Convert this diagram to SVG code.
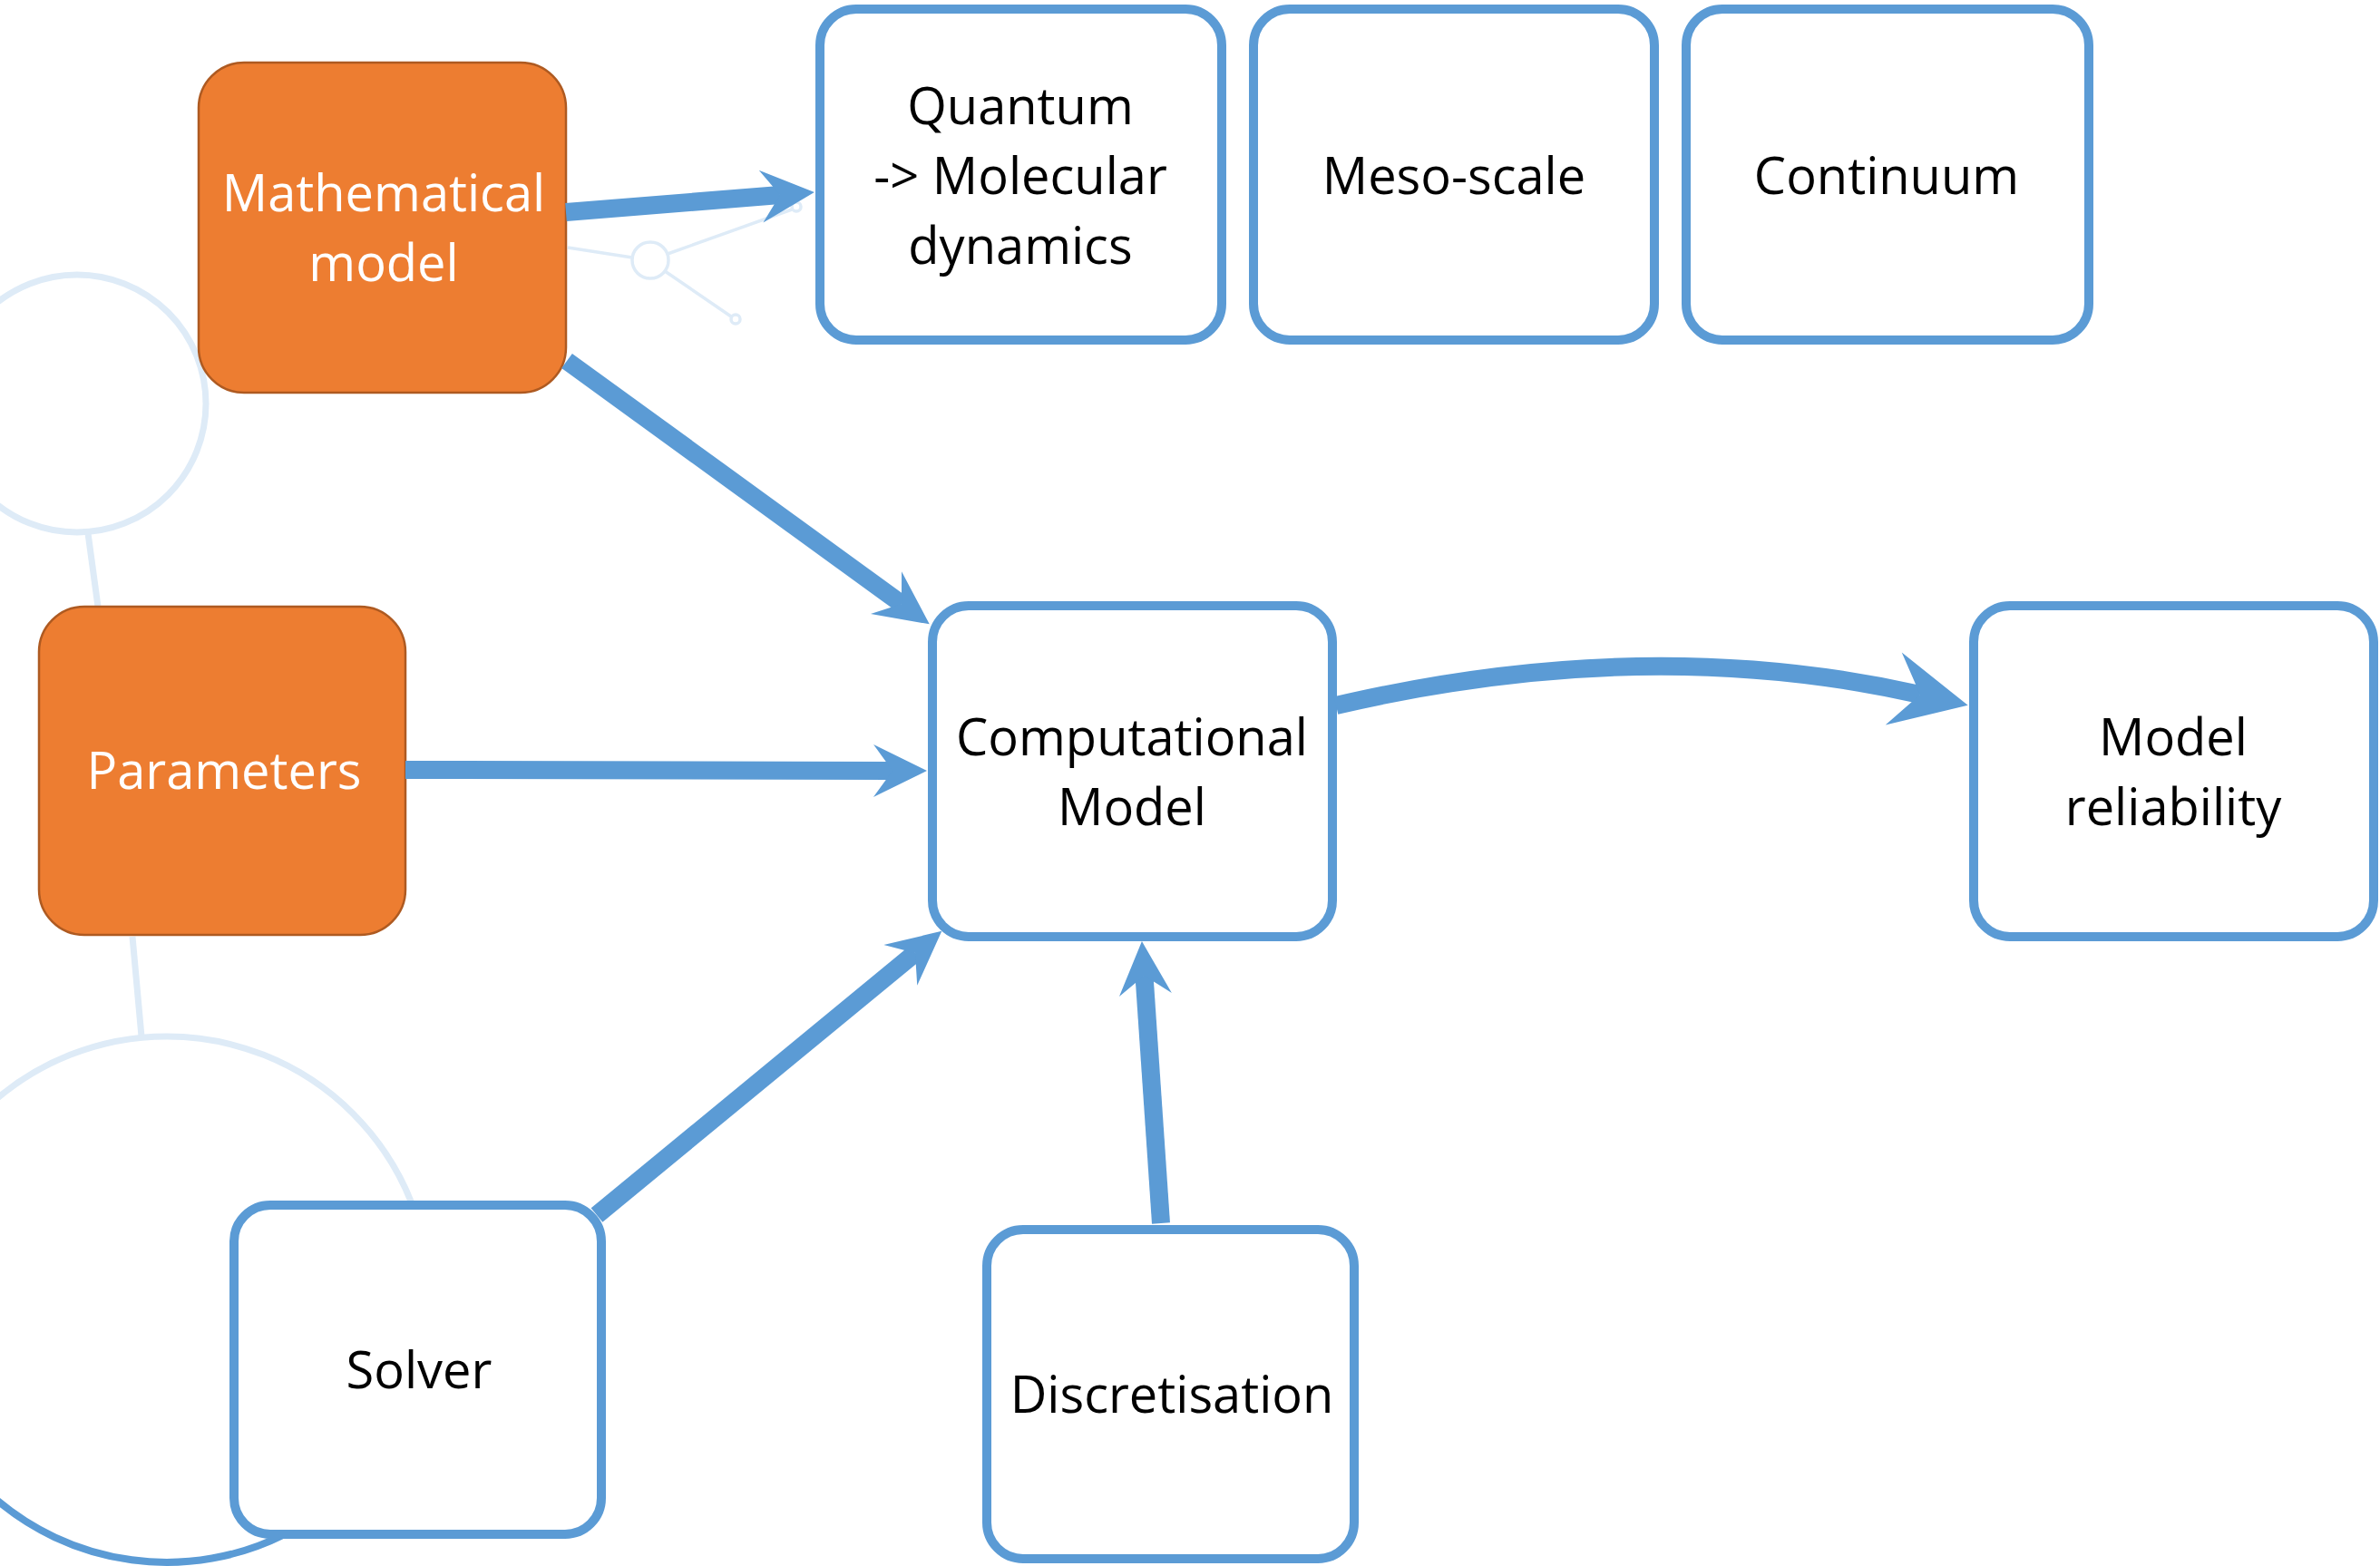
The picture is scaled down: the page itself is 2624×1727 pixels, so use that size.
<svg xmlns="http://www.w3.org/2000/svg" width="2624" height="1727" viewBox="0 0 2624 1727">
  <style>
    .box { fill: #ffffff; stroke: #5B9BD5; stroke-width: 10; }
    .obox { fill: #ED7D31; stroke: #AE5A21; stroke-width: 2.5; }
    .lbl { font-family: "Open Sans", "Liberation Sans", sans-serif; font-size: 56px; text-anchor: middle; fill: #000000; }
    .wlbl { fill: #ffffff; }
    .conn { fill: none; stroke: #5B9BD5; stroke-width: 20; }
    .std { marker-end: url(#head); }
    .big { marker-end: url(#headL); }
    .deco { fill: none; stroke: #DEEBF7; stroke-width: 7; }
    .decoThin { fill: none; stroke: #DEEBF7; stroke-width: 3.5; }
  </style>
  <defs>
    <!-- notched arrowhead; the shaft ends at the notch, the tip sits ahead of it -->
    <marker id="head" markerUnits="userSpaceOnUse" viewBox="-30 -40 80 80" markerWidth="80" markerHeight="80" refX="0" refY="0" orient="auto">
      <path d="M38,0 L-21,-29 L0,0 L-21,29 Z" fill="#5B9BD5"/>
    </marker>
    <marker id="headL" markerUnits="userSpaceOnUse" viewBox="-40 -50 100 100" markerWidth="100" markerHeight="100" refX="0" refY="0" orient="auto">
      <path d="M54,0 L-30,-41 L0,0 L-30,41 Z" fill="#5B9BD5"/>
    </marker>
  </defs>

  <rect width="2624" height="1727" fill="#ffffff"/>

  <!-- faint background ornaments -->
  <g id="decoration">
    <circle class="deco" cx="85" cy="445" r="142"/>
    <line class="deco" x1="97" y1="588" x2="108" y2="669"/>
    <line class="deco" x1="146" y1="1033" x2="156" y2="1143"/>
    <circle class="deco" cx="184" cy="1433" r="290"/>
    <path d="M-10,1648.6 A290,290 0 0 0 314,1692" fill="none" stroke="#5B9BD5" stroke-width="8"/>
    <line class="decoThin" x1="626" y1="273" x2="697" y2="284"/>
    <circle class="decoThin" cx="717" cy="287" r="20"/>
    <line class="decoThin" x1="736" y1="280" x2="873" y2="231"/>
    <circle class="decoThin" cx="878" cy="228" r="5"/>
    <line class="decoThin" x1="733" y1="299" x2="806" y2="349"/>
    <circle class="decoThin" cx="811" cy="352" r="5"/>
  </g>

  <g id="node-math">
    <rect class="obox" x="219" y="69" width="405" height="364" rx="50"/>
    <text class="lbl wlbl" x="423" y="233">Mathematical</text>
    <text class="lbl wlbl" x="423" y="310">model</text>
  </g>
  <g id="node-params">
    <rect class="obox" x="43" y="669" width="404" height="362" rx="50"/>
    <text class="lbl wlbl" x="247" y="870">Parameters</text>
  </g>
  <g id="node-quantum">
    <rect class="box" x="904" y="10" width="443" height="365" rx="40"/>
    <text class="lbl" x="1125" y="137">Quantum</text>
    <text class="lbl" x="1125" y="214">-&gt; Molecular</text>
    <text class="lbl" x="1125" y="291">dynamics</text>
  </g>
  <g id="node-meso">
    <rect class="box" x="1382" y="10" width="442" height="365" rx="40"/>
    <text class="lbl" x="1603" y="214">Meso-scale</text>
  </g>
  <g id="node-continuum">
    <rect class="box" x="1859" y="10" width="444" height="365" rx="40"/>
    <text class="lbl" x="2080" y="214">Continuum</text>
  </g>
  <g id="node-computational">
    <rect class="box" x="1028" y="668" width="441" height="365" rx="40"/>
    <text class="lbl" x="1248" y="833">Computational</text>
    <text class="lbl" x="1248" y="910">Model</text>
  </g>
  <g id="node-reliability">
    <rect class="box" x="2176" y="668" width="441" height="365" rx="40"/>
    <text class="lbl" x="2396" y="833">Model</text>
    <text class="lbl" x="2396" y="910">reliability</text>
  </g>
  <g id="node-solver">
    <rect class="box" x="258" y="1329" width="405" height="363" rx="40"/>
    <text class="lbl" x="462" y="1531">Solver</text>
  </g>
  <g id="node-discretisation">
    <rect class="box" x="1088" y="1356" width="405" height="363" rx="40"/>
    <text class="lbl" x="1292" y="1558">Discretisation</text>
  </g>

  <g id="connectors">
    <path class="conn std" d="M624,234 L860,215"/>
    <path class="conn std" d="M625,398 L994,666"/>
    <path class="conn std" d="M447,849 L984,850"/>
    <path class="conn std" d="M658,1340 L1009,1051"/>
    <path class="conn std" d="M1280,1349 L1261.5,1076"/>
    <path class="conn big" d="M1473,778 Q1815,698 2117,766"/>
  </g>
</svg>
